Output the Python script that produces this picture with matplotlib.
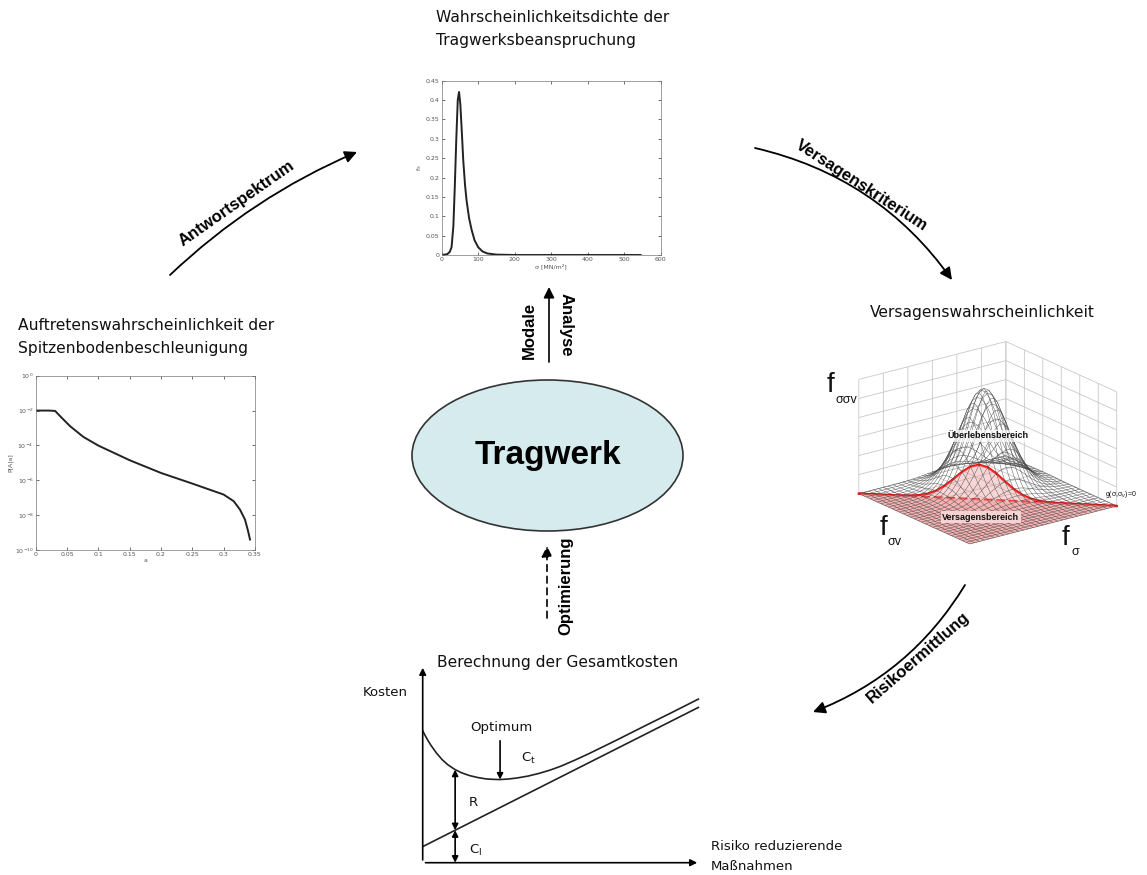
import numpy as np
import matplotlib
matplotlib.use('Agg')
import matplotlib.pyplot as plt
from matplotlib.patches import Ellipse, FancyArrowPatch
from mpl_toolkits.mplot3d.art3d import Poly3DCollection

W, H = 1147, 875

# --- top: Wahrscheinlichkeitsdichte der Tragwerksbeanspruchung
stress_x = [0, 15, 22, 27, 32, 36, 40, 44, 47.5, 51, 55, 59, 64, 68, 75, 82, 90, 100, 112, 125, 150, 200, 300, 400, 545]
stress_f = [0, 0.002, 0.008, 0.02, 0.075, 0.18, 0.30, 0.40, 0.421, 0.39, 0.32, 0.245, 0.18, 0.142,
            0.095, 0.065, 0.038, 0.02, 0.009, 0.004, 0.001, 0, 0, 0, 0]

# --- left: Auftretenswahrscheinlichkeit der Spitzenbodenbeschleunigung
accel_a = [0, 0.02, 0.031, 0.04, 0.055, 0.076, 0.1, 0.15, 0.2, 0.25, 0.3, 0.316, 0.326, 0.334, 0.339, 0.342]
accel_log_p = [-2, -2, -2.02, -2.36, -2.9, -3.51, -4.01, -4.85, -5.58, -6.19, -6.82, -7.2, -7.68, -8.25, -8.92, -9.4]
accel_params_left = ['M$_0$ = 8', 'M$_1$ = 4', 'β = 2.59', '', 'b$_1$ = 1.1', 'b$_2$ = 0.51', 'b$_3$ = 1.32', 'k = 23']
accel_params_right = ['a = 30.000 km', 'b = 50.000 km', 'c = 31.623 km', 'L = 50.000 km']

# --- bottom: Berechnung der Gesamtkosten
cost_x = [0, 0.15, 0.3, 0.5, 0.7, 0.9, 1.16, 1.4, 1.7, 2.0, 2.3, 2.55, 2.79, 3.1, 3.4, 3.8, 4.2,
          4.6, 5.0, 5.5, 6.0, 7.0, 8.0, 9.0, 9.94]
cost_total = [6.80, 6.40, 6.05, 5.65, 5.32, 5.06, 4.81, 4.64, 4.49, 4.39, 4.32, 4.30, 4.29, 4.32,
              4.37, 4.47, 4.61, 4.78, 4.99, 5.30, 5.63, 6.33, 7.05, 7.76, 8.44]
invest_x = [0, 9.94]
invest_cost = [0.83, 8.01]
marker_x = 1.17
optimum_x = 2.79

# --- right: Versagenswahrscheinlichkeit (bell profiles along f_sigma_v and f_sigma)
profile_sv = [0.0374, 0.0697, 0.1220, 0.1997, 0.3062, 0.4396, 0.591, 0.7439, 0.8768, 0.9677, 1.0,
              0.9677, 0.8768, 0.7439, 0.591, 0.4396, 0.3062, 0.1997, 0.1220, 0.0697, 0.0374,
              0.0187, 0.0088, 0.0039, 0.0016, 0.0006, 0.0002, 0.0001, 0, 0, 0]
profile_s = [0, 0.0001, 0.0002, 0.0006, 0.0016, 0.0039, 0.0088, 0.0187, 0.0374, 0.0697, 0.1220,
             0.1997, 0.3062, 0.4396, 0.591, 0.7439, 0.8768, 0.9677, 1.0, 0.9677, 0.8768, 0.7439,
             0.591, 0.4396, 0.3062, 0.1997, 0.1220, 0.0697, 0.0374, 0.0187, 0.0088]


def px_rect(x0, y0, x1, y1):
    return [x0 / W, 1 - y1 / H, (x1 - x0) / W, (y1 - y0) / H]


plt.rcParams['font.family'] = ['DejaVu Sans']
plt.rcParams['grid.color'] = '#c8c8c8'
plt.rcParams['grid.linewidth'] = 0.6

fig = plt.figure(figsize=(W / 100, H / 100), dpi=100)

# canvas in pixel coordinates for arrows, labels and the centre ellipse
ax0 = fig.add_axes([0, 0, 1, 1])
ax0.set_xlim(0, W)
ax0.set_ylim(H, 0)
ax0.axis('off')

title_kw = dict(fontsize=11.2, color='#111111', va='center', ha='left')
ax0.text(436, 18, 'Wahrscheinlichkeitsdichte der', **title_kw)
ax0.text(436, 40, 'Tragwerksbeanspruchung', **title_kw)
ax0.text(18, 326, 'Auftretenswahrscheinlichkeit der', **title_kw)
ax0.text(18, 348, 'Spitzenbodenbeschleunigung', **title_kw)
ax0.text(437, 663, 'Berechnung der Gesamtkosten', **title_kw)
fig.text(870 / W, 1 - 313 / H, 'Versagenswahrscheinlichkeit', **title_kw)

# centre
ax0.add_patch(Ellipse((547.5, 455.5), 271, 151, facecolor='#d5ebee', edgecolor='#333333', lw=1.2))
ax0.text(547.5, 455.5, 'Tragwerk', fontsize=24, fontweight='bold', family='Liberation Sans',
         ha='center', va='center')

# curved process arrows
bold_kw = dict(fontsize=12, fontweight='bold', family='Liberation Sans', ha='center', va='center')
arrows = [((170, 275), (357, 152), -0.09),
          ((755, 148), (952, 280), -0.19),
          ((965, 585), (813, 712), -0.17)]
for a, b, rad in arrows:
    ax0.add_patch(FancyArrowPatch(a, b, connectionstyle=f'arc3,rad={rad}', arrowstyle='-|>',
                                  mutation_scale=18, lw=1.3, color='k', shrinkA=0, shrinkB=0))
ax0.text(237, 203, 'Antwortspektrum', rotation=35, **bold_kw)
ax0.text(862, 186, 'Versagenskriterium', rotation=-33, **bold_kw)
ax0.text(918, 658, 'Risikoermittlung', rotation=41, **bold_kw)

# modal analysis / optimisation arrows
ax0.add_patch(FancyArrowPatch((549, 362), (549, 287), arrowstyle='-|>', mutation_scale=16, lw=1.2,
                              color='k', shrinkA=0, shrinkB=0))
ax0.text(529, 330, 'Modale', rotation=90, **bold_kw)
ax0.text(566, 325, 'Analyse', rotation=-90, **bold_kw)
ax0.add_patch(FancyArrowPatch((547, 618), (547, 546), arrowstyle='-|>', mutation_scale=16, lw=1.2,
                              color='k', linestyle=(0, (4, 3)), shrinkA=0, shrinkB=0))
ax0.text(566, 586, 'Optimierung', rotation=90, **bold_kw)

# --- top density plot
ax1 = fig.add_axes(px_rect(441.7, 80.7, 660.7, 255))
ax1.plot(stress_x, stress_f, color='#222222', lw=1.4)
ax1.set_xlim(0, 600)
ax1.set_ylim(0, 0.45)
ax1.set_xticks(range(0, 601, 100))
ax1.set_yticks(np.arange(0, 0.451, 0.05))
ax1.set_yticklabels(['0', '0.05', '0.1', '0.15', '0.2', '0.25', '0.3', '0.35', '0.4', '0.45'])
ax1.tick_params(direction='in', top=True, right=True, labelsize=4.5, labelcolor='#555555',
                length=2, width=0.4, pad=1.5)
ax1.set_xlabel('σ [MN/m²]', fontsize=4.5, color='#555555', labelpad=1)
ax1.set_ylabel('f$_S$', fontsize=4.5, color='#555555', labelpad=1)
for s in ax1.spines.values():
    s.set_linewidth(0.5)
    s.set_color('#777777')

# --- left exceedance plot
ax2 = fig.add_axes(px_rect(35.7, 375.7, 255, 550))
ax2.semilogy(accel_a, [10.0 ** v for v in accel_log_p], color='#222222', lw=1.4)
ax2.set_xlim(0, 0.35)
ax2.set_ylim(1e-10, 1)
ax2.set_xticks(np.arange(0, 0.351, 0.05))
ax2.set_xticklabels(['0', '0.05', '0.1', '0.15', '0.2', '0.25', '0.3', '0.35'])
ax2.set_yticks([1e-10, 1e-8, 1e-6, 1e-4, 1e-2, 1])
ax2.minorticks_off()
ax2.tick_params(direction='in', top=True, right=True, labelsize=4.5, labelcolor='#555555',
                length=2, width=0.4, pad=1.5)
ax2.set_xlabel('a', fontsize=4.5, color='#555555', labelpad=1)
ax2.set_ylabel('P[A|a]', fontsize=4.5, color='#555555', labelpad=1)
for s in ax2.spines.values():
    s.set_linewidth(0.5)
    s.set_color('#777777')
param_y = [386.7, 395, 403.3, 411.7, 428.3, 437.3, 446, 454.3]
for yy, t in zip(param_y, accel_params_left):
    ax0.text(160, yy, t, fontsize=4.5, color='#444444', va='center', zorder=5)
for yy, t in zip(param_y, accel_params_right):
    ax0.text(193, yy, t, fontsize=4.5, color='#444444', va='center', zorder=5)

# --- bottom cost plot
ax4 = fig.add_axes(px_rect(422.7, 665, 700, 862.7))
ax4.set_xlim(0, 10)
ax4.set_ylim(0, 10.2)
ax4.axis('off')
ax4.plot(cost_x, cost_total, color='#222222', lw=1.2)
ax4.plot(invest_x, invest_cost, color='#222222', lw=1.2)
ax4.annotate('', xy=(0, 10.2), xytext=(0, 0), arrowprops=dict(arrowstyle='-|>', lw=1.2, color='k', mutation_scale=10))
ax4.annotate('', xy=(10, 0), xytext=(0, 0), arrowprops=dict(arrowstyle='-|>', lw=1.2, color='k', mutation_scale=10))
c_at_marker = np.interp(marker_x, invest_x, invest_cost)
t_at_marker = np.interp(marker_x, cost_x, cost_total)
dbl = dict(arrowstyle='<|-|>', lw=1.2, color='k', mutation_scale=9, shrinkA=0, shrinkB=0)
ax4.annotate('', xy=(marker_x, t_at_marker), xytext=(marker_x, c_at_marker), arrowprops=dbl)
ax4.annotate('', xy=(marker_x, c_at_marker), xytext=(marker_x, 0), arrowprops=dbl)
t_at_opt = np.interp(optimum_x, cost_x, cost_total)
ax4.annotate('', xy=(optimum_x, t_at_opt), xytext=(optimum_x, t_at_opt + 2.0),
             arrowprops=dict(arrowstyle='-|>', lw=1.2, color='k', mutation_scale=9, shrinkA=0, shrinkB=0))
lab_kw = dict(fontsize=9.5, color='#111111', va='center')
ax0.text(470, 728, 'Optimum', ha='left', **lab_kw)
ax0.text(521, 758, r'C$_\mathrm{t}$', ha='left', **lab_kw)
ax0.text(469, 802, 'R', ha='left', **lab_kw)
ax0.text(469, 850, r'C$_\mathrm{I}$', ha='left', **lab_kw)
ax0.text(363, 693, 'Kosten', ha='left', **lab_kw)
ax0.text(711, 846, 'Risiko reduzierende', ha='left', **lab_kw)
ax0.text(711, 866, 'Maßnahmen', ha='left', **lab_kw)

# --- right 3D failure probability plot
ax3 = fig.add_axes(px_rect(818, 307, 1150, 586), projection='3d', proj_type='ortho')
ax3.set_facecolor('none')
ax3.view_init(elev=20, azim=-37)
ax3.set_box_aspect((1, 1, 0.66))
gpos = np.linspace(0, 1, len(profile_sv))
X, Y = np.meshgrid(gpos, gpos, indexing='ij')
Z = np.outer(profile_sv, profile_s)
Zred = np.where(X >= Y, Z, np.nan)
ax3.add_collection3d(Poly3DCollection([[(0, 0, 0), (1, 0, 0), (1, 1, 0)]], facecolor='#f4a8a8',
                                      edgecolor='none', alpha=0.6))
ax3.plot_surface(X, Y, Zred, color='#f08a8a', alpha=0.35, linewidth=0, shade=False)
ax3.plot_wireframe(X, Y, Z, color='#444444', lw=0.3)
ax3.plot(gpos, gpos, np.diagonal(Z), color='#ee1111', lw=1.7)
ax3.plot([0, 1], [0, 1], [0, 0], color='#ee1111', lw=1.7, ls='--')
ax3.set_xlim(0, 1)
ax3.set_ylim(0, 1)
ax3.set_zlim(0, 1.15)
ax3.set_xticks(np.linspace(0, 1, 7))
ax3.set_yticks(np.linspace(0, 1, 7))
ax3.set_zticks(np.linspace(0, 1.15, 7))
ax3.set_xticklabels([])
ax3.set_yticklabels([])
ax3.set_zticklabels([])
ax3.tick_params(length=0)
for axis in (ax3.xaxis, ax3.yaxis, ax3.zaxis):
    axis.set_pane_color((1, 1, 1, 1))
    axis.line.set_color('#888888')
    axis.line.set_linewidth(0.6)
    try:
        axis.set_ticks_position('none')
    except Exception:
        pass

fk = dict(family='Liberation Sans', color='#111111')
fig.text(827 / W, 1 - 385 / H, 'f', fontsize=20, va='center', **fk)
fig.text(835 / W, 1 - 400 / H, 'σσv', fontsize=9, va='center', **fk)
fig.text(880 / W, 1 - 528 / H, 'f', fontsize=20, va='center', **fk)
fig.text(888 / W, 1 - 542 / H, 'σv', fontsize=9, va='center', **fk)
fig.text(1062 / W, 1 - 538 / H, 'f', fontsize=20, va='center', **fk)
fig.text(1071 / W, 1 - 552 / H, 'σ', fontsize=9, va='center', **fk)
fig.text(988 / W, 1 - 436 / H, 'Überlebensbereich', fontsize=6.5, fontweight='bold', ha='center',
         va='center', bbox=dict(boxstyle='square,pad=0.15', fc='white', ec='none', alpha=0.75), **fk)
fig.text(981 / W, 1 - 517 / H, 'Versagensbereich', fontsize=6.5, fontweight='bold', ha='center',
         va='center', bbox=dict(boxstyle='square,pad=0.2', fc='#f6d3d3', ec='none'), **fk)
fig.text(1105 / W, 1 - 494 / H, 'g(σ,σ$_v$)=0', fontsize=5, ha='left', va='center', **fk)

fig.savefig('out.png', dpi=100)
